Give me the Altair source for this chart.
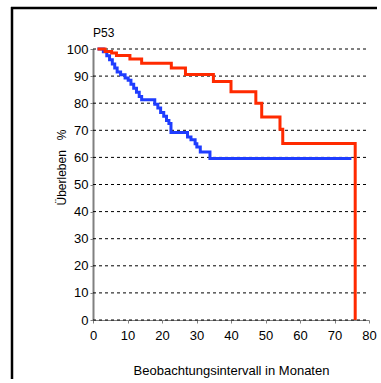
import altair as alt
import pandas as pd

# Kaplan-Meier style step curves (time in months, survival % from that time on)
red_t = [1.3, 3.5, 5.4, 6.8, 10.7, 14.1, 22.7, 26.8, 34.9, 40.0, 47.2, 48.9, 54.2, 55.0, 76.0, 76.0]
red_v = [100, 99.1, 98.5, 97.6, 96.3, 94.7, 93.0, 90.6, 88.0, 84.2, 80.0, 74.9, 70.4, 65.1, 65.1, 0]

blue_t = [1.3, 3.0, 4.0, 4.8, 5.6, 6.3, 7.0, 8.0, 9.3, 10.2, 11.0, 11.8, 12.6, 13.4, 14.1,
          17.9, 18.8, 19.6, 20.5, 21.3, 22.0, 22.6, 27.4, 28.4, 29.6, 30.1, 31.1, 33.9, 74.9]
blue_v = [100, 99.0, 97.5, 96.0, 94.5, 93.0, 91.5, 90.5, 89.3, 88.5, 87.0, 85.5, 84.0, 82.5, 81.3,
          79.6, 78.2, 76.6, 75.2, 73.6, 72.5, 69.2, 67.5, 66.5, 65.0, 63.8, 62.0, 59.6, 59.6]

x_ticks = [0, 10, 20, 30, 40, 50, 60, 70, 80]
y_ticks = [0, 10, 20, 30, 40, 50, 60, 70, 80, 90, 100]

title_text = "P53"
x_title = "Beobachtungsintervall in Monaten"
y_title = "Überleben\u00a0\u00a0\u00a0%"

FONT = "Liberation Sans"

red_df = pd.DataFrame({"t": red_t, "v": red_v, "i": range(len(red_t))})
blue_df = pd.DataFrame({"t": blue_t, "v": blue_v, "i": range(len(blue_t))})
grid_df = pd.DataFrame({"g": y_ticks})

# the view spans the whole framed box; the data occupy an inner range
W, H = 365, 371
xscale = alt.Scale(domain=[0, 80], range=[81, 357], nice=False, zero=False)
yscale = alt.Scale(domain=[0, 100], range=[312, 41], nice=False, zero=False)

xaxis = alt.Axis(values=x_ticks, title=x_title, grid=False, offset=-(H - 312),
                 labelFont=FONT, labelFontSize=13, labelColor="black", labelPadding=6,
                 tickSize=3, tickColor="#808080", labelOverlap=False, labelFlush=False,
                 domainColor="#808080", domainWidth=1, titleFont=FONT, titleFontSize=13,
                 titleFontWeight="normal", titleColor="black", titleX=219, titleY=54,
                 titleBaseline="alphabetic", titleAlign="center")
yaxis = alt.Axis(values=y_ticks, title=y_title, grid=False, offset=-81,
                 labelFont=FONT, labelFontSize=13, labelColor="black",
                 labelOverlap=False, labelFlush=False,
                 labelPadding=2, tickSize=3, tickColor="#808080", domainColor="#808080",
                 domainWidth=2, titleFont=FONT, titleFontSize=12, titleFontWeight="normal",
                 titleColor="black", titleAngle=270, titleX=-28, titleY=159,
                 titleAlign="center", titleBaseline="alphabetic")

grid = alt.Chart(grid_df).mark_rule(color="black", strokeWidth=1, strokeDash=[3, 3]).encode(
    y=alt.Y("g:Q", scale=yscale, axis=yaxis),
    x=alt.datum(0, scale=xscale),
    x2=alt.datum(80),
)

blue = alt.Chart(blue_df).mark_line(interpolate="step-after", color="#1f3dff", strokeWidth=3).encode(
    x=alt.X("t:Q", scale=xscale, axis=xaxis),
    y=alt.Y("v:Q", scale=yscale, axis=yaxis),
    order="i:Q",
)
red = alt.Chart(red_df).mark_line(interpolate="step-after", color="#ff2a00", strokeWidth=3).encode(
    x=alt.X("t:Q", scale=xscale, axis=xaxis),
    y=alt.Y("v:Q", scale=yscale, axis=yaxis),
    order="i:Q",
)

label = alt.Chart(pd.DataFrame({"s": [title_text]})).mark_text(
    align="left", baseline="alphabetic", font=FONT, fontSize=12, color="black"
).encode(x=alt.value(81), y=alt.value(28.7), text="s:N")

frame_left = alt.Chart(pd.DataFrame({"a": [0]})).mark_rule(color="black", strokeWidth=2.5).encode(
    x=alt.value(0), y=alt.value(-1), y2=alt.value(H)
)
frame_top = alt.Chart(pd.DataFrame({"a": [0]})).mark_rule(color="black", strokeWidth=2.5).encode(
    x=alt.value(-1), x2=alt.value(W), y=alt.value(0)
)

chart = alt.layer(grid, blue, red, label, frame_left, frame_top).properties(
    width=W, height=H,
    autosize=alt.AutoSizeParams(type="none"),
    padding={"left": 12, "top": 8, "right": 0, "bottom": 0},
).configure_view(stroke=None).configure(background="white")

chart.save("out.html", embed_options={"renderer": "svg", "actions": False})
